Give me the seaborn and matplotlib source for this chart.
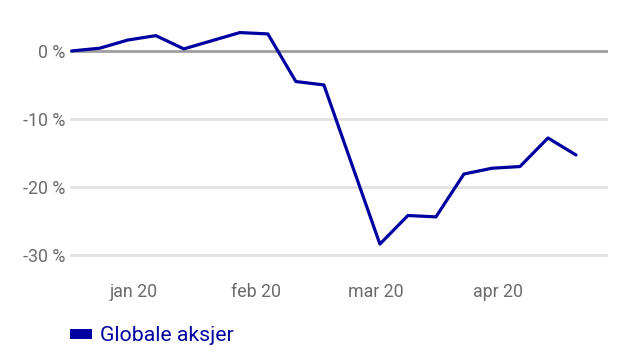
import matplotlib
matplotlib.use("Agg")
import matplotlib.pyplot as plt
import seaborn as sns
import pandas as pd
import numpy as np
from matplotlib.patches import Patch

sns.set_theme(style="white")
plt.rcParams['font.family'] = ['Roboto', 'DejaVu Sans']

# Data (weekly, % change)
dates = pd.date_range("2019-12-31", periods=19, freq="7D")
values = [0.0, 0.4, 1.6, 2.25, 0.3, 1.5, 2.7, 2.5, -4.5, -5.0, -16.7,
          -28.4, -24.2, -24.4, -18.1, -17.25, -17.0, -12.8, -15.3]
series_name = "Globale aksjer"
tick_dates = pd.to_datetime(["2020-01-15 12:00", "2020-02-15 00:00",
                             "2020-03-16 00:00", "2020-04-15 12:00"])
tick_labels = ["jan 20", "feb 20", "mar 20", "apr 20"]
yticks = [0, -10, -20, -30]

df = pd.DataFrame({"date": dates, "value": values, "series": series_name})

line_color = "#0000a0"
fig = plt.figure(figsize=(6.4, 3.6), dpi=100)
ax = fig.add_axes([0.109, 0.254, 0.841, 0.699])

for y in yticks:
    ax.axhline(y, color="#9e9e9e" if y == 0 else "#e2e2e2", lw=2.0, zorder=1)

sns.lineplot(data=df, x="date", y="value", ax=ax, color=line_color, lw=2.3,
             legend=False, zorder=3)

ax.set_ylim(-32, 5)
ax.set_xlim(dates[0] - pd.Timedelta(days=0.5), pd.Timestamp("2020-05-13"))
ax.set_yticks(yticks)
ax.set_yticklabels([f"{v} %" for v in yticks])
ax.set_xticks(tick_dates)
ax.set_xticklabels(tick_labels)
ax.tick_params(axis="both", length=0, labelsize=12.8, labelcolor="#6b6b6b")
ax.tick_params(axis="x", pad=10.5)
ax.tick_params(axis="y", pad=3.5)
ax.set_xlabel("")
ax.set_ylabel("")
for s in ax.spines.values():
    s.set_visible(False)

handle = Patch(facecolor=line_color, edgecolor="none")
leg = fig.legend([handle], [series_name], loc="center left",
                 bbox_to_anchor=(0.080, 0.067), frameon=False,
                 handlelength=1.0, handleheight=0.35, handletextpad=0.4,
                 fontsize=15.3)
for t in leg.get_texts():
    t.set_color(line_color)

fig.savefig("out.png", dpi=100)
